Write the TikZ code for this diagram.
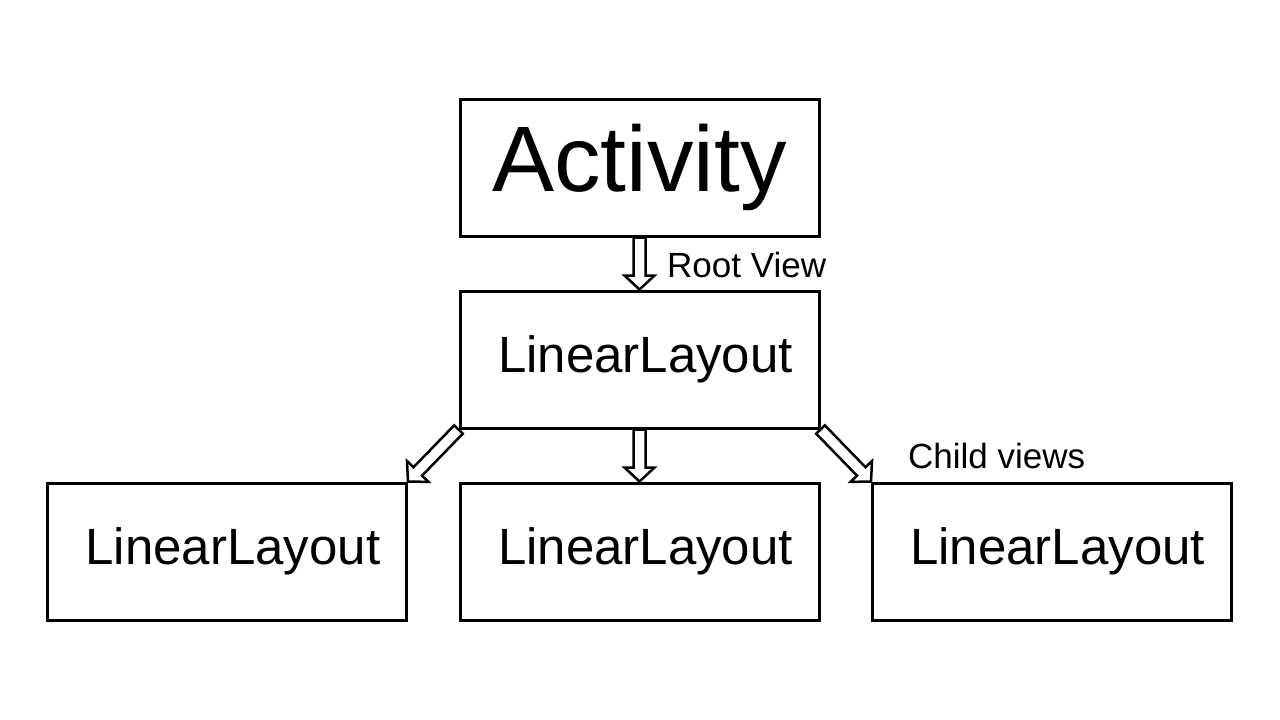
\documentclass[tikz,border=0pt]{standalone}
\usepackage{fontspec}
\setmainfont{Liberation Sans}
\usetikzlibrary{calc}
\tikzset{
  box/.style={draw=black, line width=3pt, rectangle, minimum width=359pt, minimum height=137pt, inner sep=0pt, fill=white},
  hollow/.style={draw=black, line width=2.5pt, fill=white, line join=miter},
  lbl/.style={inner sep=0pt, anchor=base west, font=\fontsize{35}{40}\selectfont}
}
\newcommand\hollowarrow[2]{%
  \path ($(#2)!14pt!(#1)$) coordinate (hb);
  \draw[hollow] ($(#1)!6pt!90:(#2)$) -- ($(hb)!6pt!90:(#2)$) -- ($(hb)!15pt!90:(#2)$) -- (#2)
     -- ($(hb)!15pt!-90:(#2)$) -- ($(hb)!6pt!-90:(#2)$) -- ($(#1)!6pt!-90:(#2)$) -- cycle;}
\begin{document}
\begin{tikzpicture}[x=1pt,y=-1pt]
\useasboundingbox (0,0) rectangle (1280,720);
\fill[white] (0,0) rectangle (1280,720);
\node[box, font=\fontsize{93}{100}\selectfont] (act) at (639.5,167.5) {Activity};
\node[box, font=\fontsize{51}{60}\selectfont] (mid) at (639.5,359.5) {\hspace*{12pt}LinearLayout};
\node[box, font=\fontsize{51}{60}\selectfont] (left) at (227,551.5) {\hspace*{12pt}LinearLayout};
\node[box, font=\fontsize{51}{60}\selectfont] (center) at (639.5,551.5) {\hspace*{12pt}LinearLayout};
\node[box, font=\fontsize{51}{60}\selectfont] (right) at (1052,551.5) {\hspace*{11pt}LinearLayout};
\hollowarrow{act.south}{mid.north}
\hollowarrow{mid.south west}{left.north east}
\hollowarrow{mid.south}{center.north}
\hollowarrow{mid.south east}{right.north west}
\node[lbl] (rootlbl) at (667,277) {Root View};
\node[lbl] (childlbl) at (908,468) {Child views};
\end{tikzpicture}
\end{document}
